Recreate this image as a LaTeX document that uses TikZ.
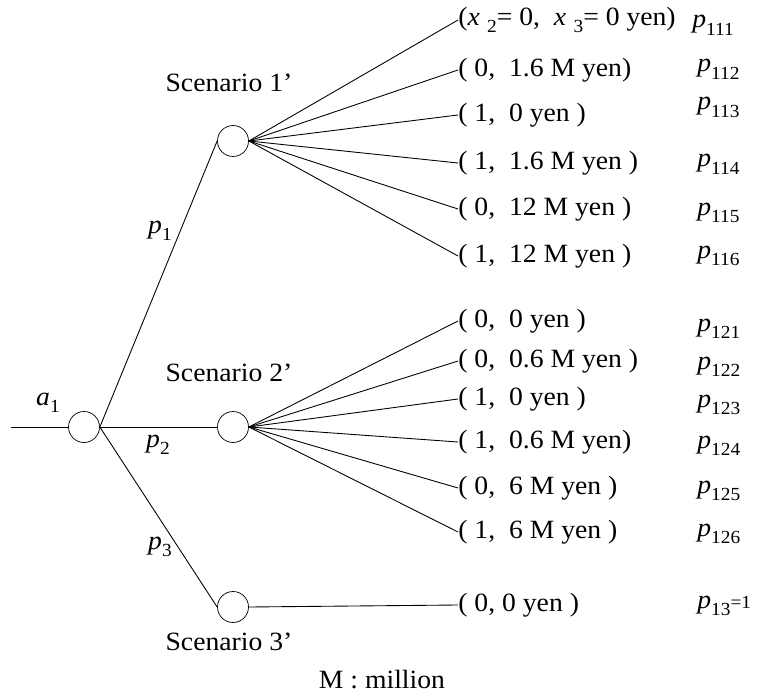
\documentclass[tikz,border=0pt]{standalone}
\usepackage{fontspec}
\setmainfont{Liberation Serif}[FakeStretch=1.05]
\usetikzlibrary{positioning}
\newcommand{\sbs}[1]{\raisebox{-0.6ex}{\fontsize{10.5}{11}\selectfont #1}}
\newcommand{\prob}[1]{\textit{p}\sbs{#1}}

\begin{document}
\begin{tikzpicture}[
        x=0.02cm, y=-0.02cm,
        font=\fontsize{15}{17}\selectfont,
        chance/.style={draw, circle, minimum size=0.62cm, inner sep=0pt},
        res/.style={anchor=west, inner sep=0pt},
        prb/.style={anchor=base west, inner sep=0pt},
        lbl/.style={anchor=base, inner sep=0pt},
        branch/.style={line width=0.5pt}
    ]
        \useasboundingbox (0,0) rectangle (757,699);

        % decision and chance nodes
        \coordinate (in) at (11,427);
        \node[chance] (act) at (84,427) {};
        \node[chance] (sc1) at (233,141) {};
        \node[chance] (sc2) at (233,427) {};
        \node[chance] (sc3) at (233,607) {};

        \node (alab) at (48,403) {\textit{a}\sbs{1}};
        \node (pl1) at (160,231) {\prob{1}};
        \node (pl2) at (158,445) {\prob{2}};
        \node (pl3) at (160,547) {\prob{3}};

        \node[lbl] (sl1) at (229,92) {Scenario 1'};
        \node[lbl] (sl2) at (229,381) {Scenario 2'};
        \node[lbl] (sl3) at (229,650) {Scenario 3'};

        % outcomes of scenario 1'
        \node[res] (o11) at (458,20) {(\textit{x}\;\sbs{2}= 0,\ \ \textit{x}\;\sbs{3}= 0 yen)};
        \node[res] (o12) at (458,70) {( 0,\ \ 1.6 M yen)};
        \node[res] (o13) at (458,115) {( 1,\ \ 0 yen )};
        \node[res] (o14) at (458,163) {( 1,\ \ 1.6 M yen )};
        \node[res] (o15) at (458,209) {( 0,\ \ 12 M yen )};
        \node[res] (o16) at (458,256) {( 1,\ \ 12 M yen )};

        % outcomes of scenario 2'
        \node[res] (o21) at (458,321) {( 0,\ \ 0 yen )};
        \node[res] (o22) at (458,361) {( 0,\ \ 0.6 M yen )};
        \node[res] (o23) at (458,399) {( 1,\ \ 0 yen )};
        \node[res] (o24) at (458,442) {( 1,\ \ 0.6 M yen)};
        \node[res] (o25) at (458,488) {( 0,\ \ 6 M yen )};
        \node[res] (o26) at (458,532) {( 1,\ \ 6 M yen )};

        % outcome of scenario 3'
        \node[res] (o31) at (458,605) {( 0, 0 yen )};

        % probabilities
        \node[prb] (p111) at (692,28) {\prob{111}};
        \node[prb] (p112) at (697,72) {\prob{112}};
        \node[prb] (p113) at (697,110) {\prob{113}};
        \node[prb] (p114) at (697,167) {\prob{114}};
        \node[prb] (p115) at (697,215) {\prob{115}};
        \node[prb] (p116) at (697,258) {\prob{116}};
        \node[prb] (p121) at (697,331) {\prob{121}};
        \node[prb] (p122) at (697,369) {\prob{122}};
        \node[prb] (p123) at (697,407) {\prob{123}};
        \node[prb] (p124) at (697,448) {\prob{124}};
        \node[prb] (p125) at (697,493) {\prob{125}};
        \node[prb] (p126) at (697,536) {\prob{126}};
        \node[prb] (p13) at (697,608) {\prob{13}{\fontsize{10.5}{11}\selectfont =1}};

        \node[lbl] (note) at (382,688) {M : million};

        \draw[branch] (in) -- (act.west);
        \draw[branch] (act.east) -- (sc1.west);
        \draw[branch] (act.east) -- (sc2.west);
        \draw[branch] (act.east) -- (sc3.west);
        \foreach \i in {1,...,6} {
            \draw[branch] (sc1.east) -- (o1\i.west);
            \draw[branch] (sc2.east) -- (o2\i.west);
        }
        \draw[branch] (sc3.east) -- (o31.west);
    \end{tikzpicture}
\end{document}
